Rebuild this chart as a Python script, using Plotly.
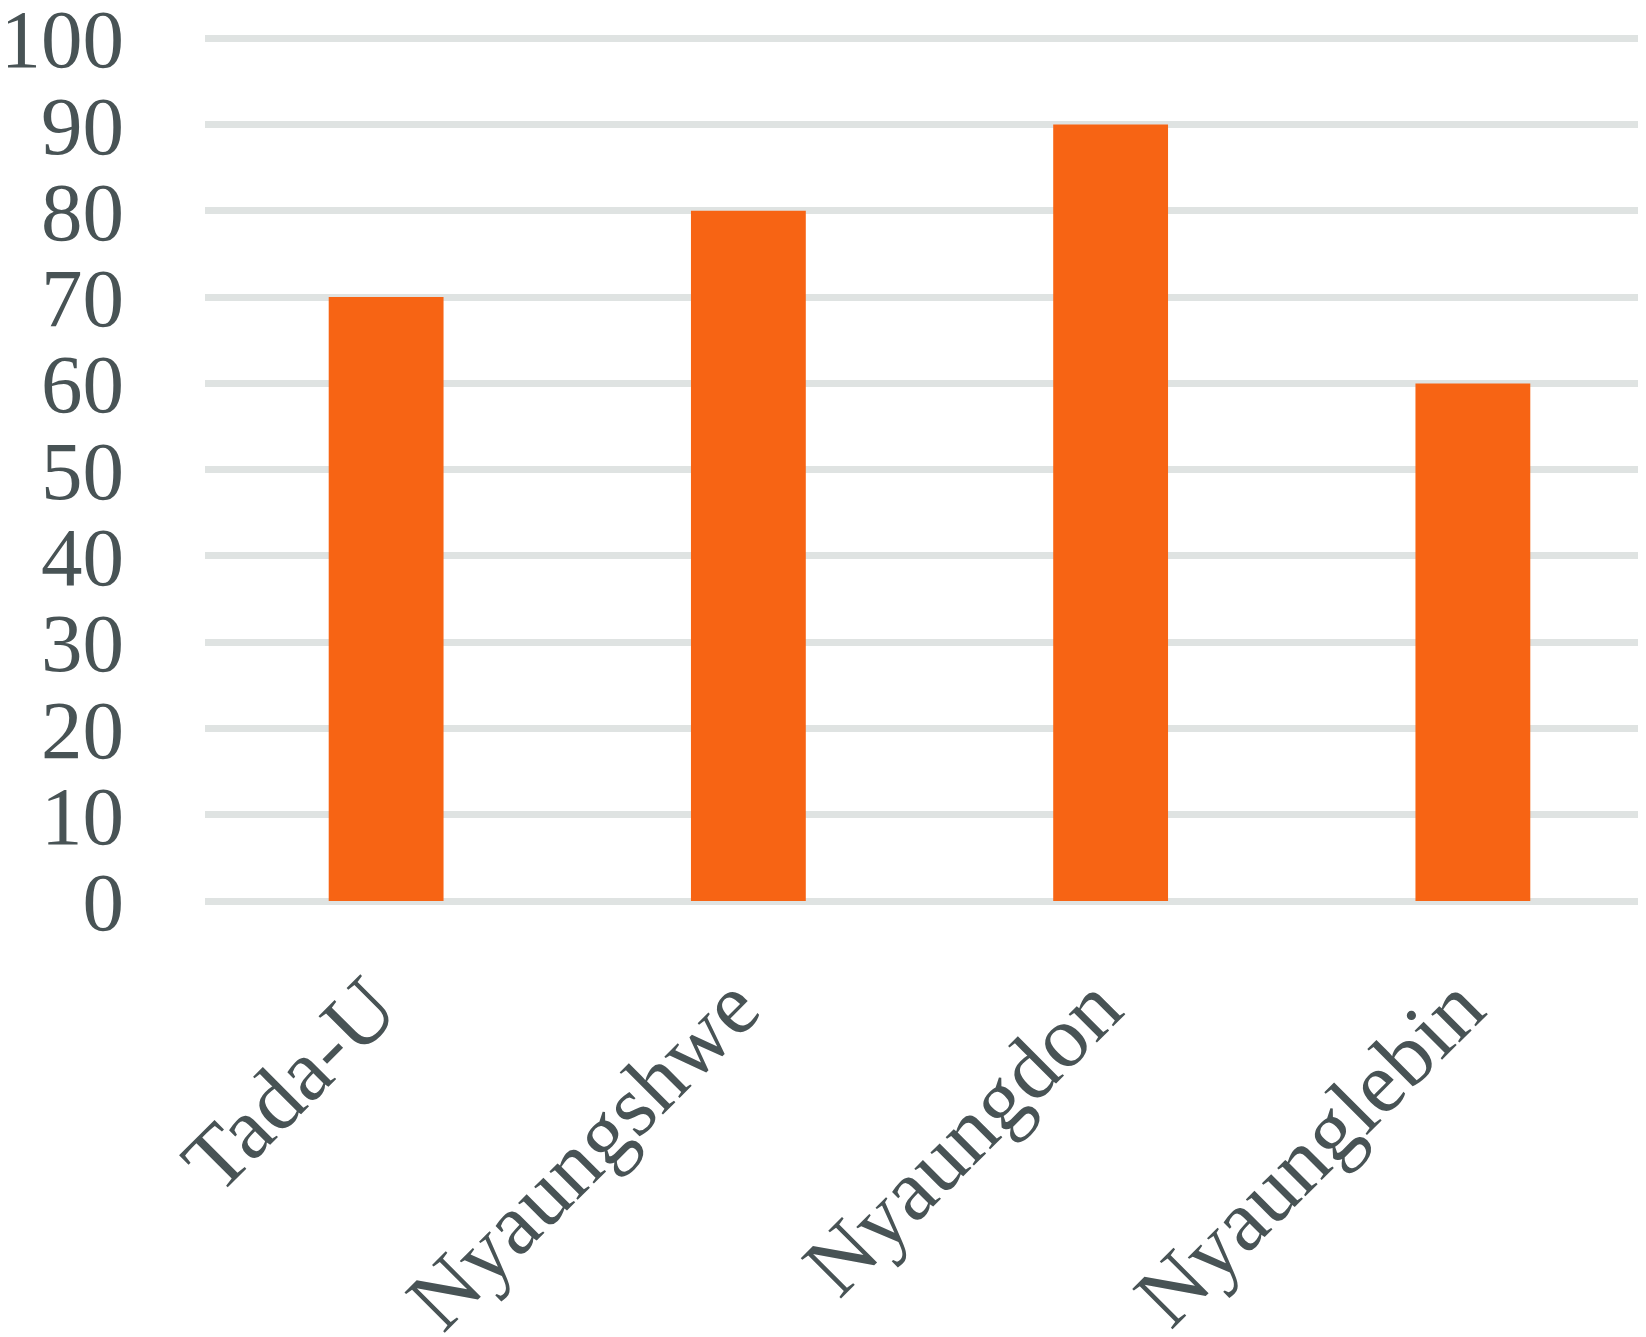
import plotly.graph_objects as go

# data
regions = ["Tada-U", "Nyaungshwe", "Nyaungdon", "Nyaunglebin"]
values = [70, 80, 90, 60]
y_ticks = [0, 10, 20, 30, 40, 50, 60, 70, 80, 90, 100]

bar_color = "#F76414"
text_color = "#485355"
grid_color = "#DFE3E2"

fig = go.Figure()
fig.add_trace(
    go.Bar(
        x=regions,
        y=values,
        marker=dict(color=bar_color, line=dict(width=0)),
        showlegend=False,
    )
)

# page body adds an 8px offset, margins compensate for it
fig.update_layout(
    width=1646,
    height=1337,
    margin=dict(l=197, r=0, t=26, b=444),
    paper_bgcolor="white",
    plot_bgcolor="white",
    bargap=0.683,
    font=dict(family="Liberation Serif", size=86, color=text_color),
)

# range slightly past 100 so the top gridline / label is kept
fig.update_yaxes(
    range=[0, 100.5],
    tickvals=y_ticks,
    showgrid=True,
    gridcolor=grid_color,
    gridwidth=7,
    zeroline=True,
    zerolinecolor=grid_color,
    zerolinewidth=7,
    showline=False,
    ticks="",
    automargin=False,
    ticklabelstandoff=80,
    ticklabeloverflow="allow",
    tickfont=dict(family="Liberation Serif", size=83, color=text_color),
)

fig.update_xaxes(
    showgrid=False,
    showline=False,
    ticks="",
    tickangle=-45,
    automargin=False,
    ticklabelstandoff=37,
    ticklabelshift=-15,
    ticklabeloverflow="allow",
    tickfont=dict(family="Liberation Serif", size=87, color=text_color),
)

fig.write_html("out.html")
